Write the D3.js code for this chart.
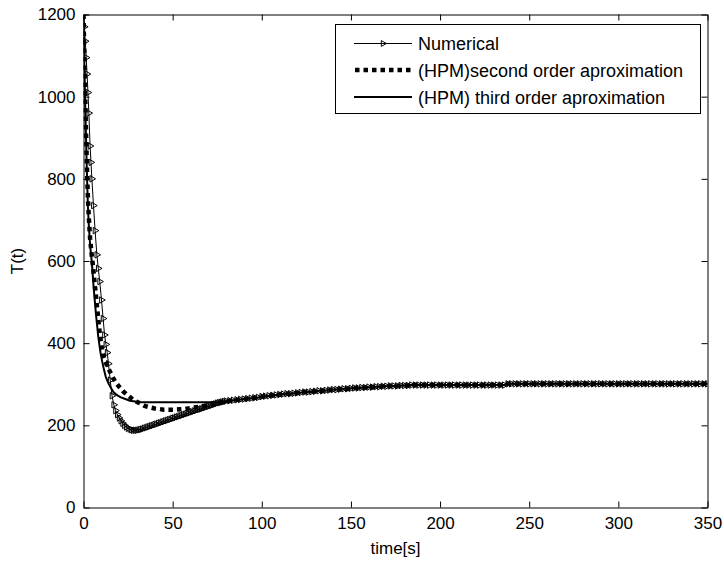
<!DOCTYPE html>
<html>
<head>
<meta charset="utf-8">
<script src="https://cdn.jsdelivr.net/npm/d3@7"></script>
<style>
  body { margin: 0; background: #fff; }
  svg { display: block; font-family: "Liberation Sans", Arial, Helvetica, sans-serif; }
</style>
</head>
<body>
<svg id="chart" width="724" height="561"></svg>
<script>
// ---------- data ----------
const xTicks = [0, 50, 100, 150, 200, 250, 300, 350];
const yTicks = [0, 200, 400, 600, 800, 1000, 1200];
const legendLabels = ["Numerical", "(HPM)second order aproximation", "(HPM) third order aproximation"];

// shared converged tail (t >= 82 s)
const tailTime = [82,84,86,88,90,92,94,96,98,100,102,104,106,108,110,112,114,116,118,120,
  122,124,126,128,130,132,134,136,138,140,142,144,146,148,150,152,154,156,158,160,
  162,164,166,168,170,172,174,176,178,180,182,184,186,188,190,192,194,196,198,200,
  202,204,206,208,210,212,214,216,218,220,222,224,226,228,230,232,234,236,238,240,
  242,244,246,248,250,252,254,256,258,260,262,264,266,268,270,272,274,276,278,280,
  282,284,286,288,290,292,294,296,298,300,302,304,306,308,310,312,314,316,318,320,
  322,324,326,328,330,332,334,336,338,340,342,344,346,348,350];
const tailTemp = [260,261,262,263,264,265,266,267,268,270,271,272,273,274,275,276,277,277,278,279,
  280,281,281,282,283,284,284,285,286,287,287,288,289,289,290,291,291,292,292,293,
  293,294,294,295,295,296,296,296,297,297,297,298,298,298,298,298,298,298,298,298,
  298,298,298,298,298,298,298,298,298,298,298,298,298,298,298,298,298,298,301,301,
  301,301,301,301,301,301,301,301,301,301,301,301,301,301,301,301,301,301,301,301,
  301,301,301,301,301,301,301,301,301,301,301,301,301,301,301,301,301,301,301,301,
  301,301,301,301,301,301,301,301,301,301,301,301,301,301,301];

// Numerical solution (line + markers)
const numTime = [0,0.5,1,1.5,2,2.5,3,3.7,4.2,4.7,5.6,6.5,7.5,8.3,9.1,10.1,11,11.8,12.6,13.3,
  14,15,16,17,18,19,20,21,22,23,24,25,26,27,28,29,30,31,32,33,34,35,36,37,38,39,40,
  41,42,43,44,45,46,47,48,49,50,51,52,53,54,55,56,57,58,59,60,61,62,63,64,65,66,67,68,69,70,
  71,72,73,74,75,76,77,78,79,80];
const numTemp = [1200,1170,1135,1095,1055,1010,960,880,840,800,735,674,615,582,550,505,460,420,397,377,
  350,310,272,250,236,226,218,211,205,200,196,193,191,189,188,188,188,189,190,191,193,194,196,197,199,200,202,
  203,205,206,208,209,211,212,214,215,217,218,220,221,223,224,226,227,229,230,232,233,235,236,238,239,240,242,243,245,246,
  248,249,251,252,254,255,256,257,258,259];

// HPM second order approximation
const hpm2Time = [0,0.5,1,1.5,2,2.5,3,3.7,4.7,5.5,6.2,7,7.7,8.5,9.1,9.8,10.5,11.3,12.3,13.3,15,16.5,18,20,22,24,26,28,30,32,34,36,38,40,42,45,48,51,54,57,60,63,66,70,74,78,80];
const hpm2Temp = [1200,1090,990,900,820,750,705,655,610,580,548,515,483,450,425,400,383,368,355,345,329,316,305,294,284,276,269,262,257,253,248,245,243,241,240,238,238,238,239,240,242,244,246,248,252,257,259];

// HPM third order approximation
const hpm3Time = [0,0.5,1,1.5,2,2.5,3,3.7,4.7,5.8,7,8.3,9.5,10.5,11.5,12.5,14,15.5,17,19,21,23.5,26,29,32,40,50,60,70,75,78,80];
const hpm3Temp = [1200,1075,970,885,800,730,685,640,595,530,470,415,378,355,335,318,302,290,280,273,268,264,260,258,256,256,256,256,256,256,257,259];

// ---------- layout ----------
const svg = d3.select("#chart");
const x = d3.scaleLinear().domain([0, 350]).range([83.5, 707.5]);
const y = d3.scaleLinear().domain([0, 1200]).range([507.5, 14.5]);
const fontSize = 17;

svg.append("defs").append("clipPath").attr("id", "plotclip")
  .append("rect").attr("x", x(0)).attr("y", y(1200))
  .attr("width", x(350) - x(0)).attr("height", y(0) - y(1200));

const toPts = (ts, vs) => ts.map((t, i) => [t, vs[i]]);
const numPts = toPts(numTime.concat(tailTime), numTemp.concat(tailTemp));
const h2Pts = toPts(hpm2Time.concat(tailTime), hpm2Temp.concat(tailTemp));
const h3Pts = toPts(hpm3Time.concat(tailTime), hpm3Temp.concat(tailTemp));

const line = d3.line().x(d => x(d[0])).y(d => y(d[1]));
const plot = svg.append("g").attr("clip-path", "url(#plotclip)");

const tri = d3.symbol().type(d3.symbolTriangle).size(18);

// numerical
plot.append("path").datum(numPts).attr("d", line)
  .attr("fill", "none").attr("stroke", "#000").attr("stroke-width", 1);
plot.append("g").selectAll("path").data(numPts).join("path")
  .attr("d", tri)
  .attr("transform", d => `translate(${x(d[0])},${y(d[1])}) rotate(90)`)
  .attr("fill", "none").attr("stroke", "#000").attr("stroke-width", 1);

// second order (thick dotted)
plot.append("path").datum(h2Pts).attr("d", line)
  .attr("fill", "none").attr("stroke", "#000").attr("stroke-width", 4.5)
  .attr("stroke-dasharray", "4.5,4");

// third order (solid)
plot.append("path").datum(h3Pts).attr("d", line)
  .attr("fill", "none").attr("stroke", "#000").attr("stroke-width", 2);

// ---------- axes ----------
const styleAxis = g => {
  g.selectAll("path.domain").attr("stroke", "#000").attr("stroke-width", 1);
  g.selectAll(".tick line").attr("stroke", "#000").attr("stroke-width", 1);
  g.selectAll("text").attr("fill", "#000").style("font-size", fontSize + "px")
    .style("font-family", '"Liberation Sans", Arial, sans-serif');
};

svg.append("g").attr("transform", `translate(0,${y(0)})`)
  .call(d3.axisBottom(x).tickValues(xTicks).tickFormat(d3.format("d")).tickSizeInner(-6).tickSizeOuter(0).tickPadding(9))
  .call(styleAxis);
svg.append("g").attr("transform", `translate(0,${y(1200)})`)
  .call(d3.axisTop(x).tickValues(xTicks).tickFormat("").tickSizeInner(-6).tickSizeOuter(0))
  .call(styleAxis);
svg.append("g").attr("transform", `translate(${x(0)},0)`)
  .call(d3.axisLeft(y).tickValues(yTicks).tickFormat(d3.format("d")).tickSizeInner(-6).tickSizeOuter(0).tickPadding(8))
  .call(styleAxis);
svg.append("g").attr("transform", `translate(${x(350)},0)`)
  .call(d3.axisRight(y).tickValues(yTicks).tickFormat("").tickSizeInner(-6).tickSizeOuter(0))
  .call(styleAxis);

// axis labels
svg.append("text").attr("x", (x(0) + x(350)) / 2).attr("y", 554)
  .attr("text-anchor", "middle").style("font-size", fontSize + "px").text("time[s]");
svg.append("text").attr("transform", `translate(23,${(y(0) + y(1200)) / 2}) rotate(-90)`)
  .attr("text-anchor", "middle").style("font-size", fontSize + "px").text("T(t)");

// ---------- legend ----------
const lg = svg.append("g");
lg.append("rect").attr("x", 335.5).attr("y", 24.5).attr("width", 365).attr("height", 89)
  .attr("fill", "#fff").attr("stroke", "#000").attr("stroke-width", 1);
const rowY = [43, 70, 97];
const sx0 = 354, sx1 = 412;
// numerical sample
lg.append("line").attr("x1", sx0).attr("x2", sx1).attr("y1", rowY[0] + 0.5).attr("y2", rowY[0] + 0.5)
  .attr("stroke", "#000").attr("stroke-width", 1);
lg.append("path").attr("d", d3.symbol().type(d3.symbolTriangle).size(15))
  .attr("transform", `translate(${(sx0 + sx1) / 2},${rowY[0] + 0.5}) rotate(90)`)
  .attr("fill", "none").attr("stroke", "#000").attr("stroke-width", 1);
// second order sample
lg.append("line").attr("x1", sx0 + 1).attr("x2", sx1).attr("y1", rowY[1]).attr("y2", rowY[1])
  .attr("stroke", "#000").attr("stroke-width", 4.5).attr("stroke-dasharray", "4.5,4");
// third order sample
lg.append("line").attr("x1", sx0).attr("x2", sx1).attr("y1", rowY[2]).attr("y2", rowY[2])
  .attr("stroke", "#000").attr("stroke-width", 2);
legendLabels.forEach((t, i) => {
  lg.append("text").attr("x", 418).attr("y", rowY[i] + 6.5)
    .style("font-size", "18px").text(t);
});
</script>
</body>
</html>
